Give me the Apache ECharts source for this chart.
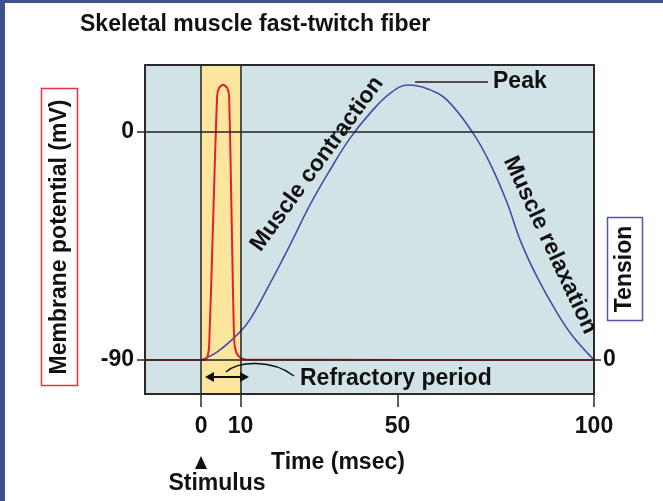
<!DOCTYPE html>
<html>
<head>
<meta charset="utf-8">
<title>Skeletal muscle fast-twitch fiber</title>
<script src="https://cdn.jsdelivr.net/npm/echarts@6.0.0/dist/echarts.min.js"></script>
<style>
  html, body { margin: 0; padding: 0; background: #fff; }
  #chart { width: 663px; height: 501px; }
</style>
</head>
<body>
<div id="chart"></div>
<script>
// tick labels
const timeTicks = [0, 10, 50, 100];
const potentialTicks = [0, -90];
const tensionTicks = [0];

// membrane potential (mV) - action potential
const spikeTime = [-14.3, 0, 1.0, 1.65, 2.04, 3.05, 4.07, 4.58, 5.6, 6.6, 7.1, 7.76, 8.4, 8.9, 9.9, 11.45, 100];
const spikeMv = [-90, -90, -89.8, -88.4, -84.1, -34.7, 14.2, 17.4, 18.6, 17.4, 14.2, -34.7, -82.1, -86.9, -89, -89.8, -90];

// tension (arbitrary units, peak = 100)
const twitchTime = [0, 4.1, 9.9, 12.7, 17.6, 22.6, 27.7, 32.8, 37.9, 43.0, 48.1, 52.7, 57.5, 62.6, 69.2, 73.5, 77.9, 81.2, 85.5, 90.6, 94.7, 100];
const twitchTension = [0, 2.9, 10.2, 15.3, 28, 41.8, 56.4, 69.1, 80.7, 89.8, 97, 100, 98.7, 94.5, 82.5, 71.6, 57.1, 43.6, 30.2, 17.1, 8.4, 0];

const refractory = [0, 10];

const FONT = 'bold 23px "Liberation Sans", Arial, sans-serif';
const INK = '#111';

const chart = echarts.init(document.getElementById('chart'));

const option = {
    backgroundColor: '#fff',
    animation: false,
    grid: {
        left: 145, top: 65, right: 69, bottom: 107,
        show: true,
        backgroundColor: '#d2e3e8',
        borderWidth: 0
    },
    xAxis: [
        {
            type: 'value',
            min: -14.3,
            max: 100,
            z: 5,
            axisLine: { show: true, onZero: false, lineStyle: { color: '#2a2a2a', width: 2 } },
            axisTick: { show: true, customValues: timeTicks, length: 13, lineStyle: { color: '#2a2a2a', width: 1.5 } },
            axisLabel: {
                customValues: timeTicks, margin: 21,
                color: INK, fontSize: 23, fontWeight: 'bold', fontFamily: 'Liberation Sans'
            },
            splitLine: { show: false }
        },
        {
            type: 'value',
            position: 'top',
            min: -14.3,
            max: 100,
            z: 5,
            axisLine: { show: true, onZero: false, lineStyle: { color: '#2a2a2a', width: 2 } },
            axisTick: { show: false },
            axisLabel: { show: false },
            splitLine: { show: false }
        }
    ],
    yAxis: [
        {
            type: 'value',
            min: -103.4,
            max: 26.4,
            z: 5,
            axisLine: { show: true, onZero: false, lineStyle: { color: '#2a2a2a', width: 2 } },
            axisTick: { show: true, customValues: potentialTicks, length: 8, lineStyle: { color: '#2a2a2a', width: 1.5 } },
            axisLabel: {
                customValues: potentialTicks, margin: 11,
                color: INK, fontSize: 23, fontWeight: 'bold', fontFamily: 'Liberation Sans'
            },
            splitLine: { show: false }
        },
        {
            type: 'value',
            position: 'right',
            min: -12.4,
            max: 107.3,
            z: 5,
            axisLine: { show: true, onZero: false, lineStyle: { color: '#2a2a2a', width: 2 } },
            axisTick: { show: true, customValues: tensionTicks, length: 7, lineStyle: { color: '#2a2a2a', width: 1.5 } },
            axisLabel: {
                customValues: tensionTicks, margin: 9,
                color: INK, fontSize: 23, fontWeight: 'bold', fontFamily: 'Liberation Sans'
            },
            splitLine: { show: false }
        }
    ],
    series: [
        {
            name: 'Tension',
            type: 'line',
            yAxisIndex: 1,
            data: twitchTime.map((t, i) => [t, twitchTension[i]]),
            smooth: 0.4,
            showSymbol: false,
            lineStyle: { color: '#4b4ba6', width: 1.6 },
            z: 3
        },
        {
            name: 'Membrane potential',
            type: 'line',
            yAxisIndex: 0,
            data: spikeTime.map((t, i) => [t, spikeMv[i]]),
            smooth: 0.25,
            showSymbol: false,
            lineStyle: { color: '#e3202c', width: 2 },
            z: 4,
            markArea: {
                silent: true,
                itemStyle: { color: '#fce69e' },
                data: [[{ xAxis: refractory[0] }, { xAxis: refractory[1] }]]
            },
            markLine: {
                silent: true,
                symbol: 'none',
                label: { show: false },
                lineStyle: { color: '#222', width: 1.5, type: 'solid' },
                data: [
                    { yAxis: potentialTicks[0] },
                    { yAxis: potentialTicks[1] },
                    { xAxis: refractory[0] },
                    { xAxis: refractory[1] }
                ]
            }
        }
    ],
    graphic: [
        // slide frame
        { type: 'rect', shape: { x: 0, y: 0, width: 5, height: 501 }, style: { fill: '#3b5388' }, silent: true },
        { type: 'rect', shape: { x: 0, y: 0, width: 663, height: 3 }, style: { fill: '#3b5388' }, silent: true },

        // title
        { type: 'text', x: 80, y: 25, style: { text: 'Skeletal muscle fast-twitch fiber', font: FONT, fill: INK, textVerticalAlign: 'middle' } },

        // axis name boxes
        { type: 'rect', shape: { x: 41.5, y: 88.5, width: 36, height: 297 }, style: { fill: 'none', stroke: '#e8323e', lineWidth: 1.5 } },
        { type: 'text', x: 60, y: 237, rotation: Math.PI / 2, style: { text: 'Membrane potential (mV)', font: FONT, fill: INK, textAlign: 'center', textVerticalAlign: 'middle' } },
        { type: 'rect', shape: { x: 607.5, y: 217.5, width: 35, height: 103 }, style: { fill: 'none', stroke: '#5555ad', lineWidth: 1.5 } },
        { type: 'text', x: 625, y: 269, rotation: Math.PI / 2, style: { text: 'Tension', font: FONT, fill: INK, textAlign: 'center', textVerticalAlign: 'middle' } },

        // curve labels
        { type: 'text', x: 317, y: 164, rotation: 54 * Math.PI / 180, style: { text: 'Muscle contraction', font: FONT, fill: INK, textAlign: 'center', textVerticalAlign: 'middle' }, z: 10 },
        { type: 'text', x: 550, y: 245, rotation: -65 * Math.PI / 180, style: { text: 'Muscle relaxation', font: FONT, fill: INK, textAlign: 'center', textVerticalAlign: 'middle' }, z: 10 },

        // peak
        { type: 'line', shape: { x1: 415, y1: 82, x2: 488, y2: 82 }, style: { stroke: '#222', lineWidth: 1.5 }, z: 10 },
        { type: 'text', x: 493, y: 82, style: { text: 'Peak', font: FONT, fill: INK, textVerticalAlign: 'middle' }, z: 10 },

        // refractory period
        { type: 'line', shape: { x1: 211, y1: 377, x2: 243, y2: 377 }, style: { stroke: '#111', lineWidth: 2 }, z: 10 },
        { type: 'polygon', shape: { points: [[205, 377], [214, 372], [214, 382]] }, style: { fill: '#111' }, z: 10 },
        { type: 'polygon', shape: { points: [[249, 377], [240, 372], [240, 382]] }, style: { fill: '#111' }, z: 10 },
        { type: 'bezierCurve', shape: { x1: 226, y1: 372, cpx1: 238, cpy1: 361, cpx2: 272, cpy2: 359, x2: 294, y2: 376 }, style: { stroke: '#111', lineWidth: 1.5, fill: 'none' }, z: 10 },
        { type: 'text', x: 300, y: 379, style: { text: 'Refractory period', font: FONT, fill: INK, textVerticalAlign: 'middle' }, z: 10 },

        // x-axis name and stimulus
        { type: 'text', x: 338, y: 463, style: { text: 'Time (msec)', font: FONT, fill: INK, textAlign: 'center', textVerticalAlign: 'middle' } },
        { type: 'polygon', shape: { points: [[195, 469], [207, 469], [201, 456]] }, style: { fill: '#111' } },
        { type: 'text', x: 217, y: 484, style: { text: 'Stimulus', font: FONT, fill: INK, textAlign: 'center', textVerticalAlign: 'middle' } }
    ]
};

chart.setOption(option);
</script>
</body>
</html>
